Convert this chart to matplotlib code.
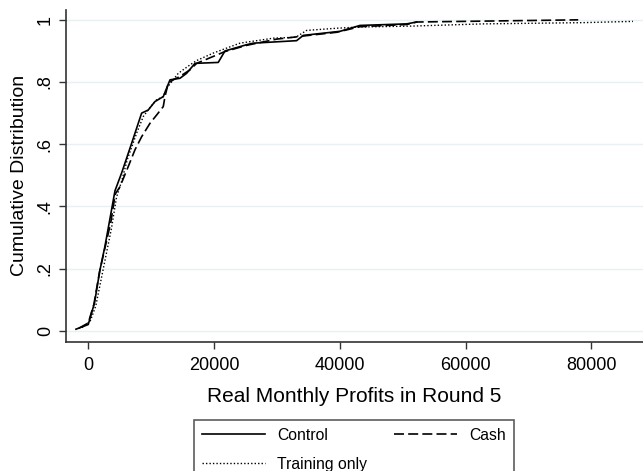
import numpy as np
import matplotlib.pyplot as plt

plt.rcParams['font.family'] = ['Liberation Sans', 'DejaVu Sans']

control_x = [-1950, 0, 1000, 1860, 2640, 3450, 4250, 5300, 6900, 8490, 9540, 10600,
             11930, 12460, 13000, 14580, 15640, 16970, 20670, 21740, 25180, 26240,
             33130, 34190, 40020, 43200, 50620, 52210]
control_F = [0.005, 0.02, 0.09, 0.195, 0.27, 0.36, 0.45, 0.507, 0.603, 0.70, 0.71, 0.737,
             0.753, 0.78, 0.807, 0.812, 0.828, 0.86, 0.863, 0.90, 0.92, 0.925,
             0.933, 0.95, 0.963, 0.982, 0.987, 0.993]

cash_x = [-1500, 0, 900, 1800, 2700, 3600, 4300, 5040, 6360, 7430, 8490, 9810, 10880,
          11930, 12200, 12720, 13510, 14580, 16170, 17230, 21740, 25180, 29960, 32600,
          34190, 39490, 43200, 50620, 52210, 77900]
cash_F = [0.008, 0.025, 0.085, 0.19, 0.27, 0.35, 0.44, 0.463, 0.528, 0.582, 0.624, 0.667, 0.694,
          0.721, 0.753, 0.796, 0.807, 0.818, 0.839, 0.86, 0.898, 0.918, 0.938, 0.944,
          0.948, 0.96, 0.978, 0.985, 0.993, 1.0]

training_x = [-1000, 300, 1200, 2100, 2900, 3700, 4500, 5300, 6200, 7690, 8750, 9900, 10880,
              11930, 12460, 14310, 16170, 17230, 19870, 24120, 29420, 33000, 34720, 39490,
              43200, 51680, 62800, 78700, 86600]
training_F = [0.01, 0.03, 0.08, 0.17, 0.25, 0.33, 0.43, 0.48, 0.55, 0.635, 0.689, 0.72, 0.743,
              0.753, 0.78, 0.828, 0.855, 0.869, 0.893, 0.925, 0.941, 0.944, 0.966, 0.973,
              0.977, 0.98, 0.987, 0.991, 0.995]

xticks = [0, 20000, 40000, 60000, 80000]
yticks = [0, 0.2, 0.4, 0.6, 0.8, 1]
ytick_labels = ['0', '.2', '.4', '.6', '.8', '1']

fig = plt.figure(figsize=(6.43, 4.71), dpi=100)
ax = fig.add_axes([0.102, 0.274, 0.898, 0.705])

l_control, = ax.plot(control_x, control_F, color='black', lw=1.2, ls='-', label='Control')
l_cash, = ax.plot(cash_x, cash_F, color='black', lw=1.2, ls=(0, (6, 2.5)), label='Cash')
l_train, = ax.plot(training_x, training_F, color='black', lw=1.0, ls=(0, (1, 1.5)),
                   label='Training only')

ax.set_xlim(-3600, 88200)
ax.set_ylim(-0.036, 1.032)
ax.set_xticks(xticks)
ax.set_yticks(yticks)
ax.set_yticklabels(ytick_labels, rotation=90, va='center')
ax.tick_params(axis='x', labelsize=13, length=5, width=1, color='#333333', pad=6)
ax.tick_params(axis='y', labelsize=13, length=5, width=1, color='#333333')
ax.grid(axis='y', color='#e8f0f2', lw=1)
ax.set_axisbelow(True)
for s in ['top', 'right']:
    ax.spines[s].set_visible(False)
for s in ['left', 'bottom']:
    ax.spines[s].set_color('#333333')
    ax.spines[s].set_linewidth(1.2)

ax.set_xlabel('Real Monthly Profits in Round 5', fontsize=15, labelpad=9)
ax.set_ylabel('Cumulative Distribution', fontsize=14, labelpad=6)

# matplotlib fills legend columns first, so order gives Control/Cash on row 1
leg = fig.legend([l_control, l_train, l_cash], ['Control', 'Training only', 'Cash'],
                 loc='upper left', bbox_to_anchor=(194 / 643, 1 - 420 / 471), ncol=2,
                 fontsize=11.3, frameon=True, fancybox=False, handlelength=4.0,
                 handletextpad=0.8, columnspacing=1.7, labelspacing=0.9, borderpad=0.5,
                 borderaxespad=0)
leg.get_frame().set_edgecolor('#333333')
leg.get_frame().set_linewidth(1.2)

fig.savefig('out.png', dpi=100)
